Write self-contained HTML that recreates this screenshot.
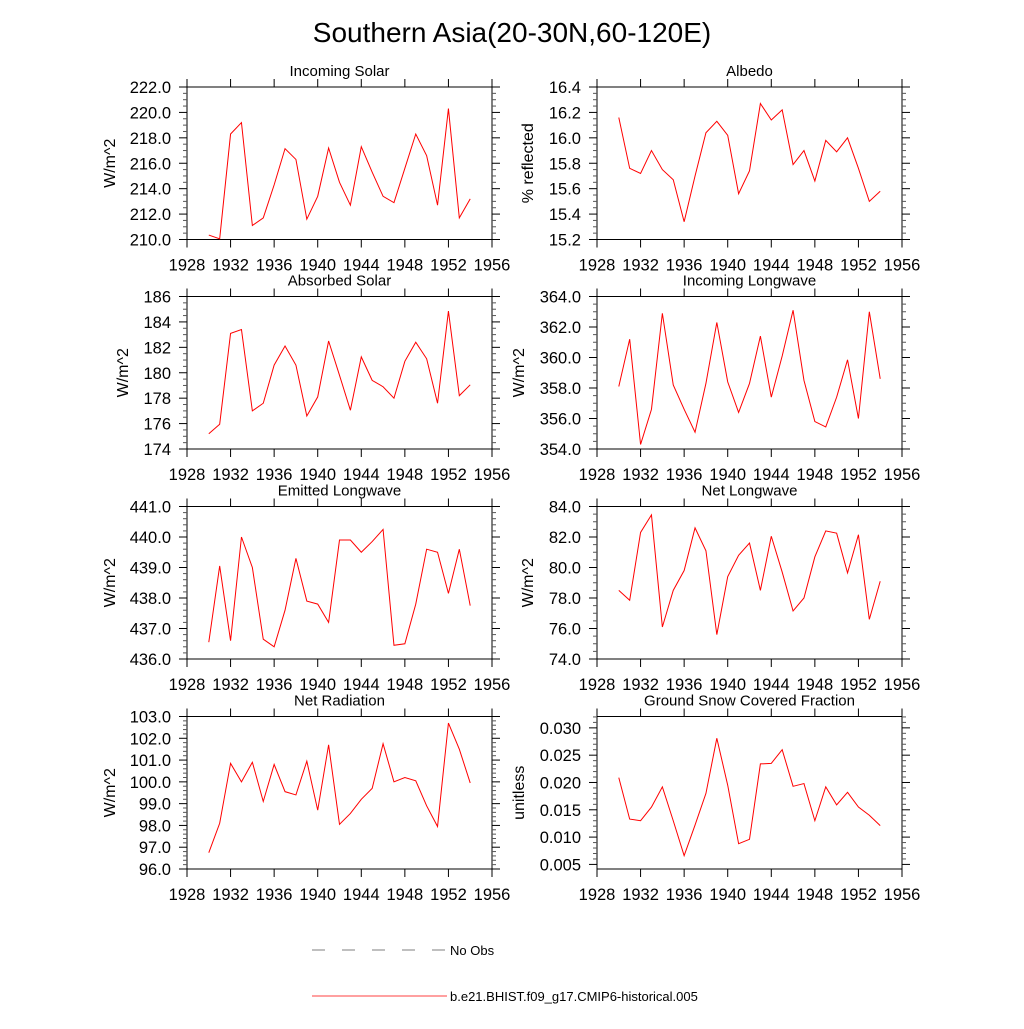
<!DOCTYPE html>
<html><head><meta charset="utf-8"><style>
html,body{margin:0;padding:0;background:#fff;}
svg text{font-family:"Liberation Sans",Arial,sans-serif;fill:#000;}
</style></head><body>
<svg id="chart" width="1024" height="1024" viewBox="0 0 1024 1024" xmlns="http://www.w3.org/2000/svg">
<text x="512" y="42" font-size="28" text-anchor="middle">Southern Asia(20-30N,60-120E)</text>
<g id="panels"></g>
<g>
<line x1="312" y1="950" x2="447" y2="950" stroke="#000" stroke-width="0.6" stroke-dasharray="13,17"/>
<text x="450" y="955" font-size="13">No Obs</text>
<line x1="312" y1="996" x2="447" y2="996" stroke="#f00" stroke-width="0.8"/>
<text x="450" y="1001" font-size="13">b.e21.BHIST.f09_g17.CMIP6-historical.005</text>
</g>
</svg>
<script>
const years = [1930,1931,1932,1933,1934,1935,1936,1937,1938,1939,1940,1941,1942,1943,1944,1945,1946,1947,1948,1949,1950,1951,1952,1953,1954];
const xTicks = [1928,1932,1936,1940,1944,1948,1952,1956];
const incomingSolar = [210.35,210.05,218.3,219.2,211.1,211.7,214.3,217.15,216.3,211.6,213.4,217.2,214.5,212.7,217.3,215.3,213.4,212.9,215.6,218.3,216.6,212.7,220.3,211.7,213.2];
const albedo = [16.16,15.76,15.72,15.90,15.75,15.67,15.34,15.70,16.04,16.13,16.02,15.56,15.74,16.27,16.14,16.22,15.79,15.90,15.66,15.98,15.89,16.00,15.76,15.50,15.58];
const absorbedSolar = [175.2,175.95,183.1,183.4,177.0,177.6,180.6,182.1,180.6,176.6,178.1,182.5,179.8,177.05,181.25,179.4,178.9,178.0,180.9,182.4,181.1,177.6,184.85,178.2,179.05];
const incomingLongwave = [358.1,361.2,354.3,356.6,362.9,358.2,356.6,355.1,358.3,362.3,358.4,356.4,358.3,361.4,357.4,360.1,363.1,358.5,355.8,355.45,357.4,359.85,356.0,363.0,358.6];
const emittedLongwave = [436.55,439.05,436.6,440.0,439.0,436.65,436.4,437.6,439.3,437.9,437.8,437.2,439.9,439.9,439.5,439.85,440.25,436.45,436.5,437.8,439.6,439.5,438.15,439.6,437.75];
const netLongwave = [78.5,77.85,82.3,83.45,76.1,78.5,79.8,82.6,81.1,75.6,79.4,80.8,81.6,78.5,82.05,79.7,77.15,78.0,80.7,82.4,82.25,79.65,82.15,76.6,79.1];
const netRadiation = [96.75,98.1,100.85,100.0,100.9,99.1,100.8,99.55,99.4,100.95,98.7,101.7,98.05,98.55,99.2,99.7,101.75,100.0,100.2,100.05,98.9,97.95,102.7,101.5,99.95];
const snowFraction = [0.0209,0.0133,0.0130,0.0155,0.0192,0.0130,0.0066,0.0122,0.0180,0.0281,0.0195,0.0088,0.0096,0.0234,0.0235,0.0260,0.0193,0.0198,0.0130,0.0192,0.0159,0.0182,0.0155,0.0140,0.0121];
const ticksIS = [210,212,214,216,218,220,222];
const ticksAL = [15.2,15.4,15.6,15.8,16.0,16.2,16.4];
const ticksAS = [174,176,178,180,182,184,186];
const ticksIL = [354,356,358,360,362,364];
const ticksEL = [436,437,438,439,440,441];
const ticksNL = [74,76,78,80,82,84];
const ticksNR = [96,97,98,99,100,101,102,103];
const ticksSN = [0.005,0.010,0.015,0.020,0.025,0.030];

const NS = "http://www.w3.org/2000/svg";
const root = document.getElementById('panels');
function mk(tag, attrs, parent){ const e=document.createElementNS(NS,tag); for(const k in attrs) e.setAttribute(k,attrs[k]); parent.appendChild(e); return e; }

const panels = [
 {key:'incoming-solar',title:'Incoming Solar',yl:'W/m^2',d:incomingSolar,t:ticksIS,min:210,max:222,dec:1,minor:4,col:0,row:0,yx:115},
 {key:'albedo',title:'Albedo',yl:'% reflected',d:albedo,t:ticksAL,min:15.2,max:16.4,dec:1,minor:4,col:1,row:0,yx:533},
 {key:'absorbed-solar',title:'Absorbed Solar',yl:'W/m^2',d:absorbedSolar,t:ticksAS,min:174,max:186,dec:0,minor:4,col:0,row:1,yx:128},
 {key:'incoming-longwave',title:'Incoming Longwave',yl:'W/m^2',d:incomingLongwave,t:ticksIL,min:354,max:364,dec:1,minor:4,col:1,row:1,yx:524},
 {key:'emitted-longwave',title:'Emitted Longwave',yl:'W/m^2',d:emittedLongwave,t:ticksEL,min:436,max:441,dec:1,minor:5,col:0,row:2,yx:115},
 {key:'net-longwave',title:'Net Longwave',yl:'W/m^2',d:netLongwave,t:ticksNL,min:74,max:84,dec:1,minor:4,col:1,row:2,yx:533},
 {key:'net-radiation',title:'Net Radiation',yl:'W/m^2',d:netRadiation,t:ticksNR,min:96,max:103,dec:1,minor:5,col:0,row:3,yx:115},
 {key:'snow-fraction',title:'Ground Snow Covered Fraction',yl:'unitless',d:snowFraction,t:ticksSN,min:0.00416,max:0.03208,dec:3,minor:5,col:1,row:3,yx:524}
];
const colX=[187,597], W=305, rowY=[87,296.5,506.5,716.5], H=152.5;

panels.forEach(p=>{
  const L=colX[p.col], T=rowY[p.row], R=L+W, B=T+H;
  const g=mk('g',{},root);
  
  
  const xs=v=>L+(v-1928)/(1956-1928)*W;
  const ys=v=>B-(v-p.min)/(p.max-p.min)*H;
  const frame=mk('rect',{x:L,y:T,width:W,height:H,fill:'none',stroke:'#000','stroke-width':1},g);
  
  
  xTicks.forEach(v=>{
    const x=xs(v);
    mk('line',{x1:x,y1:B,x2:x,y2:B+8,stroke:'#000'},g);
    mk('line',{x1:x,y1:T,x2:x,y2:T-8,stroke:'#000'},g);
    const tl=mk('text',{x:x,y:B+31,'font-size':16.5,'text-anchor':'middle'},g);
    
    
    tl.textContent=v;
  });
  const step=p.t[1]-p.t[0];
  p.t.forEach((v,i)=>{
    const y=ys(v);
    mk('line',{x1:L,y1:y,x2:L-8,y2:y,stroke:'#000'},g);
    mk('line',{x1:R,y1:y,x2:R+8,y2:y,stroke:'#000'},g);
    const tl=mk('text',{x:L-16,y:y+6,'font-size':16.5,'text-anchor':'end'},g);
    
    
    tl.textContent=v.toFixed(p.dec);
  });
  for(let k=-p.minor;k<=p.t.length*p.minor;k++){
    const v=p.t[0]+k*step/p.minor;
    if(k%p.minor===0) continue;
    if(v<p.min-1e-9||v>p.max+1e-9) continue;
    const y=ys(v);
    mk('line',{x1:L,y1:y,x2:L-4,y2:y,stroke:'#555'},g);
    mk('line',{x1:R,y1:y,x2:R+4,y2:y,stroke:'#555'},g);
  }
  const tt=mk('text',{x:L+W/2,y:T-11,'font-size':15,'text-anchor':'middle'},g);
  
  
  tt.textContent=p.title;
  const yx = p.yx;
  const yt=mk('text',{x:yx,y:T+H/2,'font-size':16,'text-anchor':'middle',transform:`rotate(-90 ${yx} ${T+H/2})`},g);
  
  
  yt.textContent=p.yl;
  const pts=p.d.map((v,i)=>xs(years[i]).toFixed(2)+','+ys(v).toFixed(2)).join(' ');
  const ln=mk('polyline',{points:pts,fill:'none',stroke:'#f00','stroke-width':1},g);
  
  
});
</script>
</body></html>
